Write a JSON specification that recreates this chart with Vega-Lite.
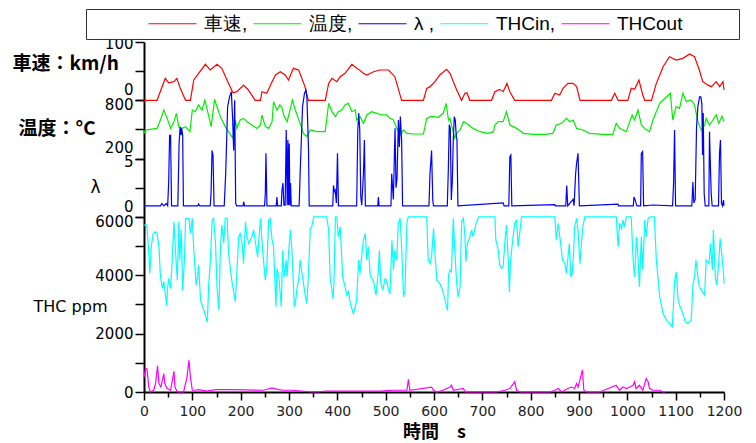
{
  "$schema": "https://vega.github.io/schema/vega-lite/v6.json",
  "width": 580,
  "height": 350,
  "autosize": "none",
  "padding": {"left": 144, "top": 42, "right": 32, "bottom": 51},
  "background": "white",
  "config": {
    "view": {"stroke": null},
    "axis": {"grid": false, "domainColor": "black", "domainWidth": 2, "tickColor": "black", "tickWidth": 1.5, "labelColor": "black", "labelFont": "DejaVu Sans", "labelFontSize": 15, "labelFlush": false, "labelOverlap": false, "titleColor": "black"}
  },
  "datasets": {
    "spd": [{"t":0,"v":0},{"t":27,"v":0},{"t":44,"v":37.7},{"t":51,"v":30},{"t":62,"v":32},{"t":68,"v":37.7},{"t":75,"v":20.5},{"t":86,"v":0},{"t":96,"v":0},{"t":103,"v":34.8},{"t":113,"v":46.3},{"t":127,"v":61.7},{"t":137,"v":52},{"t":151,"v":61.7},{"t":161,"v":54.8},{"t":175,"v":29},{"t":184,"v":13},{"t":192,"v":14.8},{"t":206,"v":26},{"t":216,"v":17.7},{"t":230,"v":0},{"t":241,"v":0},{"t":244,"v":14.8},{"t":254,"v":12},{"t":265,"v":32},{"t":272,"v":43.4},{"t":282,"v":49},{"t":292,"v":43.4},{"t":299,"v":34.8},{"t":309,"v":54.8},{"t":320,"v":52},{"t":333,"v":23.4},{"t":340,"v":0},{"t":375,"v":0},{"t":382,"v":29},{"t":389,"v":37.7},{"t":399,"v":32},{"t":406,"v":40.5},{"t":416,"v":46.3},{"t":430,"v":61.7},{"t":444,"v":53},{"t":454,"v":46.3},{"t":461,"v":43.4},{"t":475,"v":49},{"t":488,"v":52},{"t":506,"v":52},{"t":519,"v":40.5},{"t":533,"v":0},{"t":578,"v":0},{"t":585,"v":20.5},{"t":592,"v":23.4},{"t":602,"v":32},{"t":612,"v":43.4},{"t":626,"v":53},{"t":633,"v":46.3},{"t":647,"v":17.7},{"t":657,"v":0},{"t":664,"v":12},{"t":668,"v":13},{"t":674,"v":0},{"t":719,"v":0},{"t":726,"v":14.8},{"t":736,"v":18.8},{"t":743,"v":14.8},{"t":751,"v":29},{"t":757,"v":14.8},{"t":767,"v":0},{"t":843,"v":0},{"t":850,"v":12},{"t":860,"v":9},{"t":867,"v":20.5},{"t":877,"v":29},{"t":888,"v":29},{"t":895,"v":23.4},{"t":902,"v":0},{"t":967,"v":0},{"t":974,"v":12},{"t":981,"v":0},{"t":1001,"v":0},{"t":1008,"v":20.5},{"t":1015,"v":18.8},{"t":1024,"v":34.8},{"t":1032,"v":9},{"t":1036,"v":0},{"t":1050,"v":0},{"t":1060,"v":29},{"t":1074,"v":57.7},{"t":1087,"v":74.8},{"t":1101,"v":69},{"t":1115,"v":72},{"t":1129,"v":79.4},{"t":1139,"v":74.8},{"t":1149,"v":52},{"t":1156,"v":32},{"t":1167,"v":26},{"t":1174,"v":23.4},{"t":1184,"v":32},{"t":1191,"v":23.4},{"t":1198,"v":32},{"t":1200,"v":17.7}],
    "tmp": [{"t":0,"v":460},{"t":3,"v":494},{"t":13,"v":501},{"t":27,"v":511},{"t":34,"v":597},{"t":41,"v":700},{"t":48,"v":614},{"t":55,"v":511},{"t":62,"v":580},{"t":67,"v":666},{"t":72,"v":529},{"t":79,"v":511},{"t":86,"v":529},{"t":95,"v":477},{"t":100,"v":700},{"t":106,"v":683},{"t":113,"v":752},{"t":120,"v":700},{"t":126,"v":803},{"t":131,"v":700},{"t":139,"v":529},{"t":146,"v":810},{"t":151,"v":734},{"t":158,"v":632},{"t":168,"v":529},{"t":177,"v":460},{"t":184,"v":409},{"t":189,"v":597},{"t":192,"v":511},{"t":199,"v":597},{"t":206,"v":614},{"t":213,"v":580},{"t":223,"v":546},{"t":234,"v":511},{"t":241,"v":546},{"t":244,"v":649},{"t":251,"v":529},{"t":258,"v":511},{"t":265,"v":580},{"t":268,"v":786},{"t":275,"v":700},{"t":281,"v":752},{"t":285,"v":734},{"t":289,"v":649},{"t":296,"v":580},{"t":303,"v":717},{"t":307,"v":803},{"t":313,"v":700},{"t":323,"v":563},{"t":330,"v":460},{"t":337,"v":426},{"t":344,"v":494},{"t":358,"v":477},{"t":375,"v":477},{"t":382,"v":769},{"t":389,"v":683},{"t":396,"v":632},{"t":402,"v":683},{"t":409,"v":700},{"t":416,"v":752},{"t":423,"v":769},{"t":430,"v":683},{"t":437,"v":700},{"t":440,"v":597},{"t":447,"v":632},{"t":454,"v":563},{"t":461,"v":649},{"t":471,"v":683},{"t":482,"v":666},{"t":492,"v":649},{"t":502,"v":649},{"t":509,"v":614},{"t":516,"v":597},{"t":523,"v":511},{"t":530,"v":443},{"t":537,"v":494},{"t":544,"v":460},{"t":557,"v":453},{"t":578,"v":453},{"t":585,"v":614},{"t":592,"v":632},{"t":599,"v":632},{"t":609,"v":625},{"t":619,"v":666},{"t":625,"v":769},{"t":630,"v":597},{"t":633,"v":614},{"t":636,"v":546},{"t":643,"v":409},{"t":647,"v":460},{"t":654,"v":494},{"t":661,"v":580},{"t":667,"v":563},{"t":681,"v":511},{"t":695,"v":477},{"t":712,"v":460},{"t":723,"v":477},{"t":726,"v":546},{"t":733,"v":580},{"t":743,"v":580},{"t":750,"v":683},{"t":757,"v":546},{"t":771,"v":511},{"t":785,"v":460},{"t":805,"v":450},{"t":829,"v":450},{"t":846,"v":460},{"t":853,"v":546},{"t":864,"v":563},{"t":874,"v":614},{"t":881,"v":580},{"t":888,"v":597},{"t":895,"v":511},{"t":908,"v":494},{"t":922,"v":460},{"t":950,"v":450},{"t":970,"v":450},{"t":977,"v":563},{"t":984,"v":511},{"t":998,"v":477},{"t":1005,"v":580},{"t":1010,"v":649},{"t":1015,"v":597},{"t":1022,"v":700},{"t":1029,"v":546},{"t":1036,"v":511},{"t":1046,"v":477},{"t":1053,"v":597},{"t":1067,"v":769},{"t":1081,"v":837},{"t":1089,"v":872},{"t":1094,"v":597},{"t":1101,"v":734},{"t":1108,"v":717},{"t":1115,"v":872},{"t":1122,"v":786},{"t":1132,"v":803},{"t":1139,"v":752},{"t":1146,"v":580},{"t":1153,"v":494},{"t":1160,"v":546},{"t":1163,"v":614},{"t":1170,"v":546},{"t":1177,"v":597},{"t":1184,"v":649},{"t":1189,"v":563},{"t":1196,"v":638},{"t":1200,"v":580}],
    "lam": [{"t":0,"v":0.95},{"t":34,"v":0.95},{"t":37,"v":1.15},{"t":41,"v":0.95},{"t":46,"v":1.15},{"t":49,"v":0.95},{"t":51,"v":2.9},{"t":53,"v":7},{"t":55,"v":7},{"t":57,"v":0.95},{"t":70,"v":0.95},{"t":72.6,"v":6.3},{"t":74.7,"v":7.7},{"t":76.8,"v":7},{"t":78,"v":7.6},{"t":80,"v":7},{"t":81.6,"v":0.95},{"t":111,"v":0.95},{"t":113,"v":1.1},{"t":115,"v":0.95},{"t":137,"v":0.95},{"t":138.7,"v":2},{"t":140.8,"v":5.7},{"t":142.8,"v":5.3},{"t":144.9,"v":0.95},{"t":166,"v":0.95},{"t":169,"v":3.7},{"t":173,"v":9.45},{"t":177,"v":10.3},{"t":180.7,"v":10.74},{"t":183.5,"v":8.3},{"t":185.5,"v":5.7},{"t":187.6,"v":10},{"t":189.7,"v":1.16},{"t":191.7,"v":0.95},{"t":205,"v":0.95},{"t":206.2,"v":1.3},{"t":208,"v":0.95},{"t":249.5,"v":0.95},{"t":251,"v":2},{"t":252.3,"v":5.45},{"t":254.4,"v":0.95},{"t":273.6,"v":0.95},{"t":275,"v":1.7},{"t":276.4,"v":0.95},{"t":284,"v":0.95},{"t":285.3,"v":2.2},{"t":287.4,"v":2.9},{"t":289.5,"v":1},{"t":292,"v":1},{"t":294.3,"v":7.45},{"t":296.3,"v":1},{"t":297.7,"v":6.6},{"t":299.1,"v":1},{"t":300.5,"v":6.3},{"t":301.8,"v":1},{"t":303.2,"v":2.9},{"t":304.6,"v":0.95},{"t":321,"v":0.95},{"t":323,"v":3.7},{"t":328,"v":9.45},{"t":332,"v":10.6},{"t":335,"v":10.88},{"t":337,"v":10.3},{"t":339,"v":7.7},{"t":340.4,"v":5.7},{"t":341.8,"v":0.95},{"t":390.6,"v":0.95},{"t":392,"v":2.7},{"t":394,"v":2.2},{"t":395.5,"v":2.3},{"t":398,"v":1.2},{"t":400.3,"v":5.45},{"t":402.3,"v":0.95},{"t":440,"v":0.95},{"t":442.3,"v":7.45},{"t":444.3,"v":8.9},{"t":446.4,"v":7.45},{"t":448.5,"v":1.7},{"t":450.5,"v":1},{"t":454,"v":3.7},{"t":456,"v":6.6},{"t":458,"v":0.95},{"t":483.6,"v":0.95},{"t":485,"v":1.7},{"t":486.3,"v":0.95},{"t":511,"v":0.95},{"t":512.5,"v":3.7},{"t":515.9,"v":1.5},{"t":519.4,"v":7.6},{"t":521.4,"v":2.5},{"t":523.5,"v":3.3},{"t":526.3,"v":8.3},{"t":528.3,"v":6},{"t":530.4,"v":8.6},{"t":533,"v":6.6},{"t":535,"v":0.95},{"t":589.6,"v":0.95},{"t":591.7,"v":3.7},{"t":595,"v":5.7},{"t":597.5,"v":1.4},{"t":599,"v":0.95},{"t":627.5,"v":0.95},{"t":629.6,"v":4},{"t":631.6,"v":7.9},{"t":633.7,"v":7.6},{"t":635.8,"v":1.45},{"t":637.8,"v":3},{"t":639.9,"v":6.6},{"t":642,"v":8.6},{"t":644,"v":8.3},{"t":646,"v":7},{"t":647.5,"v":6.6},{"t":649.5,"v":0.95},{"t":743,"v":1.2},{"t":745,"v":0.95},{"t":754.8,"v":0.95},{"t":756.9,"v":5.16},{"t":759,"v":5.3},{"t":761,"v":0.95},{"t":849.9,"v":1.05},{"t":851,"v":0.95},{"t":872.6,"v":0.95},{"t":874.6,"v":2.7},{"t":876.7,"v":0.95},{"t":887.7,"v":1.5},{"t":889.8,"v":0.95},{"t":893,"v":3.7},{"t":895,"v":4.6},{"t":898,"v":5.45},{"t":900.8,"v":0.95},{"t":980.7,"v":1.1},{"t":982,"v":0.95},{"t":1012.4,"v":0.95},{"t":1013.7,"v":1.7},{"t":1015.8,"v":1.5},{"t":1017.9,"v":1.2},{"t":1020,"v":0.95},{"t":1027.5,"v":0.95},{"t":1028.9,"v":5.45},{"t":1031.6,"v":5.6},{"t":1033.7,"v":0.95},{"t":1053,"v":1.02},{"t":1093.6,"v":0.95},{"t":1095.7,"v":2.9},{"t":1097.7,"v":7.45},{"t":1099.8,"v":0.95},{"t":1133.5,"v":0.95},{"t":1135.6,"v":3},{"t":1137.6,"v":1.2},{"t":1140.4,"v":1.5},{"t":1143.2,"v":7.7},{"t":1145.9,"v":9.45},{"t":1149.4,"v":10.3},{"t":1152.1,"v":10.3},{"t":1154.2,"v":9.7},{"t":1155.6,"v":5.3},{"t":1157,"v":8.9},{"t":1159,"v":2},{"t":1161.1,"v":0.95},{"t":1168.6,"v":0.95},{"t":1170,"v":7.3},{"t":1172.1,"v":4},{"t":1173.5,"v":2},{"t":1175.5,"v":0.95},{"t":1188.6,"v":0.95},{"t":1190.7,"v":5.45},{"t":1192.7,"v":6.6},{"t":1194.8,"v":1.16},{"t":1196.9,"v":0.95},{"t":1199,"v":1.45},{"t":1200,"v":0.95}],
    "thi": [{"t":0,"v":5720},{"t":6,"v":5720},{"t":10,"v":4750},{"t":12,"v":4060},{"t":15,"v":4980},{"t":19,"v":5430},{"t":24,"v":5490},{"t":27,"v":5430},{"t":31,"v":4980},{"t":34,"v":3950},{"t":38,"v":3550},{"t":41,"v":3780},{"t":44,"v":3370},{"t":47,"v":2970},{"t":49,"v":3600},{"t":51,"v":3890},{"t":55,"v":3550},{"t":58,"v":4400},{"t":62,"v":5830},{"t":65,"v":4860},{"t":69,"v":3830},{"t":72,"v":5830},{"t":74,"v":4520},{"t":77,"v":5550},{"t":80,"v":3490},{"t":84,"v":4630},{"t":86,"v":5950},{"t":93,"v":5950},{"t":96,"v":5430},{"t":100,"v":5950},{"t":103,"v":4860},{"t":108,"v":3660},{"t":111,"v":3950},{"t":113,"v":4350},{"t":117,"v":3150},{"t":124,"v":2800},{"t":131,"v":2400},{"t":134,"v":3720},{"t":137,"v":4400},{"t":141,"v":5890},{"t":144,"v":5950},{"t":148,"v":5090},{"t":151,"v":3600},{"t":155,"v":2800},{"t":158,"v":4860},{"t":161,"v":5720},{"t":165,"v":5090},{"t":168,"v":5950},{"t":172,"v":5950},{"t":175,"v":4750},{"t":182,"v":3780},{"t":189,"v":3090},{"t":196,"v":5320},{"t":199,"v":5430},{"t":203,"v":5090},{"t":206,"v":4400},{"t":210,"v":5830},{"t":213,"v":5320},{"t":217,"v":5090},{"t":223,"v":5320},{"t":227,"v":5550},{"t":230,"v":5200},{"t":235,"v":4630},{"t":241,"v":5950},{"t":246,"v":4750},{"t":251,"v":3830},{"t":254,"v":4290},{"t":258,"v":5890},{"t":261,"v":5950},{"t":265,"v":5200},{"t":268,"v":4980},{"t":273,"v":2920},{"t":275,"v":4230},{"t":279,"v":3950},{"t":284,"v":2920},{"t":287,"v":4860},{"t":290,"v":3950},{"t":294,"v":4520},{"t":296,"v":3950},{"t":299,"v":4750},{"t":303,"v":5550},{"t":306,"v":4860},{"t":311,"v":2920},{"t":314,"v":3150},{"t":316,"v":3490},{"t":320,"v":3830},{"t":323,"v":4520},{"t":327,"v":4060},{"t":330,"v":3720},{"t":334,"v":3260},{"t":337,"v":3030},{"t":340,"v":3950},{"t":344,"v":5600},{"t":347,"v":5660},{"t":351,"v":6000},{"t":378,"v":6000},{"t":382,"v":5550},{"t":385,"v":3950},{"t":391,"v":3200},{"t":393,"v":3720},{"t":396,"v":6000},{"t":399,"v":6000},{"t":402,"v":5320},{"t":406,"v":5660},{"t":411,"v":3950},{"t":416,"v":3600},{"t":420,"v":3320},{"t":423,"v":3430},{"t":427,"v":3030},{"t":433,"v":2690},{"t":437,"v":2920},{"t":440,"v":3150},{"t":444,"v":4520},{"t":447,"v":4060},{"t":451,"v":4750},{"t":454,"v":5200},{"t":458,"v":5430},{"t":461,"v":4520},{"t":464,"v":4980},{"t":468,"v":4000},{"t":475,"v":3780},{"t":480,"v":3320},{"t":485,"v":4180},{"t":487,"v":4860},{"t":490,"v":3720},{"t":494,"v":3490},{"t":499,"v":3890},{"t":502,"v":3830},{"t":506,"v":3490},{"t":509,"v":3370},{"t":513,"v":5200},{"t":516,"v":4180},{"t":519,"v":4860},{"t":523,"v":4520},{"t":526,"v":5780},{"t":530,"v":5950},{"t":533,"v":4980},{"t":537,"v":3260},{"t":540,"v":3490},{"t":544,"v":5830},{"t":547,"v":6000},{"t":585,"v":6000},{"t":588,"v":4520},{"t":592,"v":4400},{"t":595,"v":4630},{"t":599,"v":5600},{"t":602,"v":4750},{"t":606,"v":3830},{"t":612,"v":3720},{"t":618,"v":3490},{"t":623,"v":3150},{"t":628,"v":2800},{"t":630,"v":4000},{"t":633,"v":4180},{"t":636,"v":4120},{"t":640,"v":5950},{"t":643,"v":4860},{"t":647,"v":3720},{"t":650,"v":3260},{"t":654,"v":3600},{"t":657,"v":5830},{"t":661,"v":5950},{"t":664,"v":5320},{"t":666,"v":4460},{"t":669,"v":5090},{"t":673,"v":5260},{"t":678,"v":5550},{"t":681,"v":5320},{"t":687,"v":5780},{"t":692,"v":6000},{"t":726,"v":6000},{"t":728,"v":5200},{"t":733,"v":4860},{"t":736,"v":4350},{"t":740,"v":4230},{"t":743,"v":4290},{"t":747,"v":5200},{"t":750,"v":5720},{"t":754,"v":4400},{"t":756,"v":3430},{"t":758,"v":4400},{"t":762,"v":5090},{"t":767,"v":5780},{"t":771,"v":5890},{"t":774,"v":4980},{"t":778,"v":5550},{"t":781,"v":6000},{"t":850,"v":6000},{"t":853,"v":5200},{"t":857,"v":5780},{"t":862,"v":5090},{"t":866,"v":4520},{"t":871,"v":4400},{"t":874,"v":4060},{"t":880,"v":5090},{"t":883,"v":3950},{"t":886,"v":4060},{"t":889,"v":4860},{"t":891,"v":5660},{"t":895,"v":5950},{"t":898,"v":5550},{"t":902,"v":4400},{"t":905,"v":5090},{"t":908,"v":5660},{"t":912,"v":6000},{"t":977,"v":6000},{"t":981,"v":4980},{"t":984,"v":5780},{"t":988,"v":5600},{"t":991,"v":5890},{"t":994,"v":5660},{"t":998,"v":6000},{"t":1008,"v":6000},{"t":1012,"v":4520},{"t":1015,"v":3950},{"t":1019,"v":5320},{"t":1022,"v":4630},{"t":1025,"v":3600},{"t":1029,"v":5320},{"t":1032,"v":4180},{"t":1036,"v":5890},{"t":1039,"v":5320},{"t":1043,"v":5950},{"t":1047,"v":6000},{"t":1056,"v":6000},{"t":1060,"v":4520},{"t":1067,"v":3260},{"t":1074,"v":2690},{"t":1081,"v":2460},{"t":1087,"v":2350},{"t":1093,"v":2230},{"t":1098,"v":3830},{"t":1101,"v":4120},{"t":1105,"v":3200},{"t":1109,"v":2920},{"t":1115,"v":2690},{"t":1120,"v":2400},{"t":1125,"v":2350},{"t":1132,"v":2460},{"t":1136,"v":3720},{"t":1139,"v":3950},{"t":1142,"v":4520},{"t":1148,"v":3660},{"t":1153,"v":3490},{"t":1160,"v":3320},{"t":1163,"v":4520},{"t":1169,"v":4400},{"t":1172,"v":5090},{"t":1176,"v":4180},{"t":1178,"v":5550},{"t":1182,"v":3950},{"t":1185,"v":3660},{"t":1189,"v":4400},{"t":1192,"v":5260},{"t":1195,"v":4800},{"t":1199,"v":4060},{"t":1200,"v":3720}],
    "tho": [{"t":0,"v":500},{"t":3,"v":780},{"t":6,"v":800},{"t":10,"v":170},{"t":13,"v":0},{"t":20,"v":60},{"t":24,"v":290},{"t":28,"v":900},{"t":31,"v":290},{"t":35,"v":170},{"t":41,"v":630},{"t":43,"v":290},{"t":48,"v":120},{"t":55,"v":60},{"t":62,"v":710},{"t":64,"v":170},{"t":69,"v":0},{"t":82,"v":0},{"t":89,"v":520},{"t":93,"v":1090},{"t":96,"v":520},{"t":100,"v":60},{"t":106,"v":60},{"t":113,"v":80},{"t":130,"v":30},{"t":148,"v":80},{"t":192,"v":80},{"t":247,"v":60},{"t":265,"v":140},{"t":278,"v":80},{"t":289,"v":60},{"t":306,"v":60},{"t":351,"v":0},{"t":378,"v":30},{"t":406,"v":30},{"t":447,"v":30},{"t":489,"v":30},{"t":516,"v":60},{"t":544,"v":60},{"t":547,"v":430},{"t":550,"v":60},{"t":595,"v":170},{"t":599,"v":60},{"t":606,"v":0},{"t":619,"v":60},{"t":633,"v":170},{"t":636,"v":230},{"t":640,"v":60},{"t":661,"v":120},{"t":664,"v":0},{"t":729,"v":0},{"t":747,"v":60},{"t":757,"v":120},{"t":767,"v":350},{"t":771,"v":60},{"t":778,"v":0},{"t":840,"v":0},{"t":850,"v":60},{"t":857,"v":120},{"t":864,"v":0},{"t":877,"v":120},{"t":884,"v":170},{"t":891,"v":120},{"t":895,"v":290},{"t":898,"v":170},{"t":907,"v":750},{"t":910,"v":60},{"t":915,"v":0},{"t":943,"v":0},{"t":977,"v":230},{"t":984,"v":60},{"t":991,"v":170},{"t":998,"v":120},{"t":1005,"v":170},{"t":1012,"v":230},{"t":1015,"v":350},{"t":1018,"v":120},{"t":1025,"v":230},{"t":1032,"v":60},{"t":1039,"v":460},{"t":1043,"v":350},{"t":1046,"v":120},{"t":1053,"v":60},{"t":1067,"v":60},{"t":1074,"v":0},{"t":1078,"v":0}]
  },
  "encoding": {
    "x": {
      "field": "t", "type": "quantitative",
      "scale": {"domain": [0, 1200], "nice": false, "zero": false},
      "axis": {
        "values": [0,50,100,150,200,250,300,350,400,450,500,550,600,650,700,750,800,850,900,950,1000,1050,1100,1150,1200],
        "format": "d",
        "labelExpr": "datum.value % 100 == 0 ? datum.label : ''",
        "tickSize": {"condition": {"test": "datum.value % 100 == 0", "value": 8}, "value": 5},
        "labelFontSize": 14, "labelColor": "#222222", "labelPadding": 4,
        "title": "時間　s", "titleFont": "Noto Sans CJK JP", "titleFontSize": 18, "titleFontWeight": "bold",
        "titleY": 40, "titleBaseline": "middle"
      }
    }
  },
  "layer": [
    {
      "data": {"name": "spd"},
      "mark": {"type": "line", "strokeWidth": 1.2},
      "encoding": {
        "y": {"field": "v", "type": "quantitative", "scale": {"domain": [0, 100], "range": [58.3, 0], "nice": false, "zero": false},
          "axis": {"orient": "left", "values": [0, 50, 100], "tickSize": 9, "labelPadding": 2,
            "labelExpr": "datum.value == 50 ? '' : datum.label",
            "labelOffset": {"condition": {"test": "datum.value == 0", "value": -11}, "value": 1},
            "title": "車速：km/h", "titleAngle": 0, "titleAlign": "left", "titleBaseline": "middle", "titleX": -132, "titleY": 21,
            "titleFont": "Noto Sans CJK JP", "titleFontSize": 19, "titleFontWeight": "bold"}},
        "color": {"datum": "車速", "type": "nominal",
          "scale": {"domain": ["車速", "温度", "λ", "THCin", "THCout"], "range": ["#ff0000", "#00ee00", "#0000ff", "#00ffff", "#ff00ff"]},
          "legend": {
            "orient": "none", "legendX": -58, "legendY": -33, "direction": "horizontal",
            "title": "\u200b\u2003\u2003\u2003\u200b", "titleOrient": "left", "titleFont": "Liberation Sans", "titleFontSize": 20, "titlePadding": 12,
            "symbolType": "M-2.77,0H2.77", "symbolSize": 300, "symbolStrokeWidth": 1.2,
            "labelFont": "Liberation Sans", "labelFontSize": 19, "labelColor": "black", "labelOffset": 22, "labelLimit": 0,
            "columnPadding": 3, "strokeColor": "#333333", "fillColor": "white", "padding": 5,
            "labelExpr": "datum.label == 'THCout' ? 'THCout\u2003\u2003\u2002\u2009\u200b' : datum.label == 'λ' ? ' λ ,' : datum.label + ','"
          }}
      }
    },
    {
      "data": {"name": "tmp"},
      "mark": {"type": "line", "strokeWidth": 1.2},
      "encoding": {
        "y": {"field": "v", "type": "quantitative", "scale": {"domain": [200, 800], "range": [116.6, 58.3], "nice": false, "zero": false},
          "axis": {"orient": "left", "values": [200, 500, 800], "tickSize": 9, "labelPadding": 2,
            "labelExpr": "datum.value == 500 ? '' : datum.label",
            "labelOffset": {"condition": {"test": "datum.value == 200", "value": -11}, "value": 4},
            "title": "温度：°C", "titleAngle": 0, "titleAlign": "left", "titleBaseline": "middle", "titleX": -126, "titleY": 86,
            "titleFont": "Noto Sans CJK JP", "titleFontSize": 19, "titleFontWeight": "bold"}},
        "color": {"datum": "温度", "type": "nominal"}
      }
    },
    {
      "data": {"name": "lam"},
      "mark": {"type": "line", "strokeWidth": 1.2},
      "encoding": {
        "y": {"field": "v", "type": "quantitative", "scale": {"domain": [0, 5], "range": [174.9, 116.6], "nice": false, "zero": false},
          "axis": {"orient": "left", "values": [0, 2.5, 5], "tickSize": 9, "labelPadding": 2,
            "labelExpr": "datum.value == 2.5 ? '' : datum.label",
            "labelOffset": {"condition": {"test": "datum.value == 0", "value": -10}, "value": 3},
            "title": "λ", "titleAngle": 0, "titleAlign": "left", "titleBaseline": "middle", "titleX": -54, "titleY": 145,
            "titleFont": "DejaVu Sans", "titleFontSize": 17, "titleFontWeight": "normal"}},
        "color": {"datum": "λ", "type": "nominal"}
      }
    },
    {
      "data": {"name": "thi"},
      "mark": {"type": "line", "strokeWidth": 1.2},
      "encoding": {
        "y": {"field": "v", "type": "quantitative", "scale": {"domain": [0, 6000], "range": [350, 174.9], "nice": false, "zero": false},
          "axis": {"orient": "left", "values": [0, 1000, 2000, 3000, 4000, 5000, 6000], "tickSize": 9, "labelPadding": 2, "format": "d",
            "labelExpr": "datum.value % 2000 == 0 ? datum.label : ''",
            "labelOffset": {"condition": {"test": "datum.value == 6000", "value": 5}, "value": 0},
            "title": "THC ppm", "titleAngle": 0, "titleAlign": "left", "titleBaseline": "middle", "titleX": -111, "titleY": 264,
            "titleFont": "DejaVu Sans", "titleFontSize": 16, "titleFontWeight": "normal"}},
        "color": {"datum": "THCin", "type": "nominal"}
      }
    },
    {
      "data": {"name": "tho"},
      "mark": {"type": "line", "strokeWidth": 1.2},
      "encoding": {
        "y": {"field": "v", "type": "quantitative", "scale": {"domain": [0, 6000], "range": [350, 174.9], "nice": false, "zero": false}, "axis": null},
        "color": {"datum": "THCout", "type": "nominal"}
      }
    }
  ],
  "resolve": {"scale": {"y": "independent"}, "axis": {"y": "independent"}}
}
